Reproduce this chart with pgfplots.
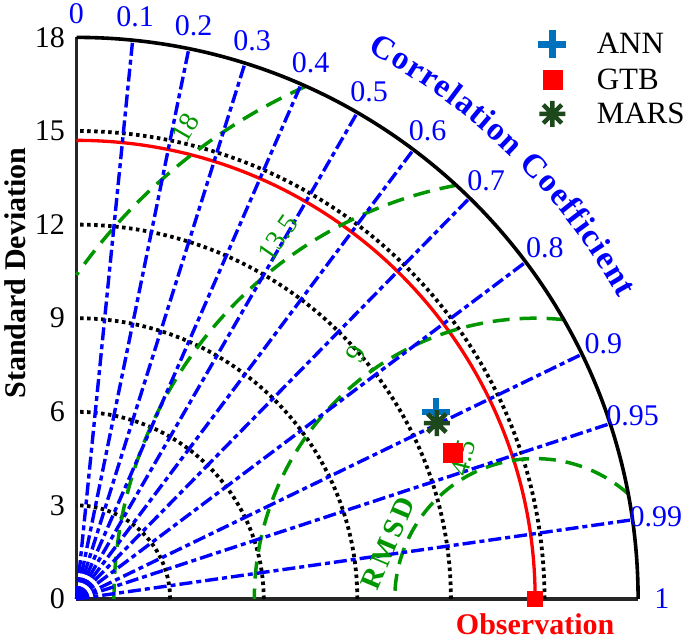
\documentclass[border=0pt]{standalone}
\usepackage{pgfplots}
\pgfplotsset{compat=1.18}
\usepackage{fontspec}
\setmainfont{Liberation Serif}
\usetikzlibrary{decorations.text}
\definecolor{corrblue}{RGB}{0,0,255}
\definecolor{rmsgreen}{RGB}{0,150,0}
\definecolor{annblue}{RGB}{0,114,189}
\definecolor{marsgreen}{RGB}{28,72,28}
\pgfdeclareplotmark{ast8}{%
  \pgfpathmoveto{\pgfqpoint{0pt}{\pgfplotmarksize}}\pgfpathlineto{\pgfqpoint{0pt}{-\pgfplotmarksize}}%
  \pgfpathmoveto{\pgfqpoint{\pgfplotmarksize}{0pt}}\pgfpathlineto{\pgfqpoint{-\pgfplotmarksize}{0pt}}%
  \pgfpathmoveto{\pgfqpoint{.7071\pgfplotmarksize}{.7071\pgfplotmarksize}}\pgfpathlineto{\pgfqpoint{-.7071\pgfplotmarksize}{-.7071\pgfplotmarksize}}%
  \pgfpathmoveto{\pgfqpoint{-.7071\pgfplotmarksize}{.7071\pgfplotmarksize}}\pgfpathlineto{\pgfqpoint{.7071\pgfplotmarksize}{-.7071\pgfplotmarksize}}%
  \pgfusepathqstroke}
\begin{document}
\begin{tikzpicture}
\useasboundingbox (-76.5pt,-40pt) rectangle (608.5pt,599pt);
\begin{axis}[
  x=31.2pt, y=31.2pt,
  xmin=0, xmax=18, ymin=0, ymax=18,
  axis x line*=bottom, axis y line*=left,
  axis line style={line width=3.4pt, black!85},
  xtick=\empty,
  ytick={0,3,...,18},
  major tick length=0pt,
  /pgf/number format/assume math mode=true,
  yticklabel style={font=\fontsize{30}{30}\selectfont, inner sep=0pt, xshift=-11.5pt},
  clip=false,
  legend cell align=left,
  legend style={draw=none, fill=none, at={(0.8165,1.015)}, anchor=north west,
    font=\fontsize{31}{31}\selectfont, inner sep=0pt, row sep=7pt, column sep=25pt,
    nodes={inner sep=2pt}},
  legend image code/.code={\path (0pt,-12pt) (28pt,12pt); \draw[#1] plot coordinates {(14pt,0pt)};},
]
% standard deviation arcs
\pgfplotsinvokeforeach{3,6,9,12,15}{
  \draw[black, line width=3.8pt, dash pattern=on 3.5pt off 3.5pt] (axis cs:#1,0) arc[start angle=0, end angle=90, radius=#1*31.2pt];
}
% observation arc
\draw[red, line width=3.3pt] (axis cs:14.7,0) arc[start angle=0, end angle=90, radius=14.7*31.2pt];
% RMSD arcs
\draw[rmsgreen, line width=3.5pt, dash pattern=on 17pt off 10pt] (axis cs:14.7,0) ++(48.5:140.4pt) arc[start angle=48.5, end angle=180, radius=140.4pt];
\draw[rmsgreen, line width=3.5pt, dash pattern=on 17pt off 10pt] (axis cs:14.7,0) ++(84.2:280.8pt) arc[start angle=84.2, end angle=180, radius=280.8pt];
\draw[rmsgreen, line width=3.5pt, dash pattern=on 17pt off 10pt] (axis cs:14.7,0) ++(100.8:421.2pt) arc[start angle=100.8, end angle=180, radius=421.2pt];
\draw[rmsgreen, line width=3.5pt, dash pattern=on 17pt off 10pt] (axis cs:14.7,0) ++(114.1:561.6pt) arc[start angle=114.1, end angle=144.76, radius=561.6pt];
% correlation lines
\pgfplotsinvokeforeach{0.1,0.2,0.3,0.4,0.5,0.6,0.7,0.8,0.9,0.95,0.99}{
  \draw[corrblue, line width=3.4pt, dash pattern=on 13pt off 4pt on 5pt off 4pt] (axis cs:0,0) -- (axis cs:{18*#1},{18*sqrt(1-#1*#1)});
}
% outer arc
\draw[black, line width=3.6pt] (axis cs:18,0) arc[start angle=0, end angle=90, radius=561.6pt];
% correlation labels
\pgfplotsinvokeforeach{0,0.1,0.2,0.3,0.4,0.5,0.6,0.7,0.8,0.9,0.95,0.99,1}{
  \node[corrblue, font=\fontsize{30}{30}\selectfont, inner sep=0pt] at (axis cs:{18.76*#1},{18.76*sqrt(1-#1*#1)}) {#1};
}
% RMSD labels
\node[rmsgreen, rotate=60, font=\fontsize{28}{28}\selectfont, inner sep=0pt] at (axis cs:3.48,15.1) {18};
\node[rmsgreen, rotate=55, font=\fontsize{28}{28}\selectfont, inner sep=0pt] at (axis cs:6.46,11.57) {13.5};
\node[rmsgreen, rotate=60, font=\fontsize{28}{28}\selectfont, inner sep=0pt] at (axis cs:8.96,7.85) {9};
\node[rmsgreen, rotate=75, font=\fontsize{28}{28}\selectfont, inner sep=0pt] at (axis cs:12.39,4.52) {4.5};
\node[rmsgreen, rotate=67, font=\bfseries\fontsize{29}{29}\selectfont, inner sep=0pt] at (axis cs:9.98,1.79) {R\hspace{4pt}M\hspace{4pt}S\hspace{4pt}D};
% axis labels
\node[red, font=\bfseries\fontsize{30}{30}\selectfont, inner sep=0pt] at (axis cs:14.7,-0.8) {Observation};
\node[rotate=90, font=\bfseries\fontsize{30}{30}\selectfont, inner sep=0pt] at (axis cs:-1.97,10.45) {Standard Deviation};
% observation point
\addplot[only marks, mark=square*, mark size=7.5pt, red, forget plot] coordinates {(14.7,0)};
% models
\addplot[only marks, mark=+, mark size=14pt, line width=6.5pt, annblue] coordinates {(11.52,5.99)};
\addlegendentry{ANN}
\addplot[only marks, mark=square*, mark size=9.5pt, red] coordinates {(12.05,4.68)};
\addlegendentry{GTB}
\addplot[only marks, mark=ast8, mark size=13pt, line width=4.5pt, marsgreen] coordinates {(11.55,5.64)};
\addlegendentry{MARS}
\end{axis}
\path[decorate, decoration={text along path, text color=corrblue,
  text={|\bfseries\fontsize{33}{33}\selectfont|Correlation Coefficient}, text align={fit to path}}]
  (62:620pt) arc[start angle=62, end angle=29, radius=620pt];
\end{tikzpicture}
\end{document}
